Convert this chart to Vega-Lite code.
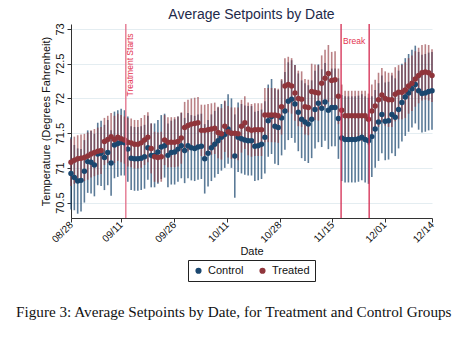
{
  "$schema": "https://vega.github.io/schema/vega-lite/v6.json",
  "background": "white",
  "padding": {"left": 15, "top": 7, "right": 10, "bottom": 4},
  "title": {"text": "Figure 3: Average Setpoints by Date, for Treatment and Control Groups", "orient": "bottom", "font": "Liberation Serif", "fontSize": 15.2, "fontWeight": "normal", "color": "#111111", "anchor": "middle", "offset": 23, "dx": -4},
  "datasets": {
    "d": [
      {"t":0,"g":"Control","m":70.92,"lo":70.40,"hi":71.44},
      {"t":1,"g":"Control","m":70.86,"lo":70.39,"hi":71.33},
      {"t":2,"g":"Control","m":70.81,"lo":70.34,"hi":71.28},
      {"t":3,"g":"Control","m":70.82,"lo":70.37,"hi":71.27},
      {"t":4,"g":"Control","m":70.95,"lo":70.50,"hi":71.40},
      {"t":5,"g":"Control","m":71.09,"lo":70.64,"hi":71.54},
      {"t":6,"g":"Control","m":71.08,"lo":70.63,"hi":71.53},
      {"t":7,"g":"Control","m":71.04,"lo":70.59,"hi":71.49},
      {"t":8,"g":"Control","m":71.20,"lo":70.75,"hi":71.65},
      {"t":9,"g":"Control","m":71.21,"lo":70.74,"hi":71.68},
      {"t":10,"g":"Control","m":71.15,"lo":70.68,"hi":71.62},
      {"t":11,"g":"Control","m":71.22,"lo":70.75,"hi":71.69},
      {"t":12,"g":"Control","m":71.07,"lo":70.60,"hi":71.54},
      {"t":13,"g":"Control","m":71.33,"lo":70.85,"hi":71.81},
      {"t":14,"g":"Control","m":71.35,"lo":70.87,"hi":71.83},
      {"t":15,"g":"Control","m":71.37,"lo":70.89,"hi":71.85},
      {"t":16,"g":"Control","m":71.36,"lo":70.89,"hi":71.83},
      {"t":17,"g":"Control","m":71.27,"lo":70.80,"hi":71.74},
      {"t":18,"g":"Control","m":71.14,"lo":70.68,"hi":71.60},
      {"t":19,"g":"Control","m":71.13,"lo":70.67,"hi":71.59},
      {"t":20,"g":"Control","m":71.13,"lo":70.67,"hi":71.59},
      {"t":21,"g":"Control","m":71.14,"lo":70.68,"hi":71.60},
      {"t":22,"g":"Control","m":71.16,"lo":70.70,"hi":71.62},
      {"t":23,"g":"Control","m":71.29,"lo":70.83,"hi":71.75},
      {"t":24,"g":"Control","m":71.18,"lo":70.72,"hi":71.64},
      {"t":25,"g":"Control","m":71.18,"lo":70.72,"hi":71.64},
      {"t":26,"g":"Control","m":71.23,"lo":70.77,"hi":71.69},
      {"t":27,"g":"Control","m":71.30,"lo":70.84,"hi":71.76},
      {"t":28,"g":"Control","m":71.32,"lo":70.86,"hi":71.78},
      {"t":29,"g":"Control","m":71.18,"lo":70.72,"hi":71.64},
      {"t":30,"g":"Control","m":71.22,"lo":70.76,"hi":71.68},
      {"t":31,"g":"Control","m":71.23,"lo":70.76,"hi":71.70},
      {"t":32,"g":"Control","m":71.27,"lo":70.80,"hi":71.74},
      {"t":33,"g":"Control","m":71.32,"lo":70.85,"hi":71.79},
      {"t":34,"g":"Control","m":71.25,"lo":70.78,"hi":71.72},
      {"t":35,"g":"Control","m":71.32,"lo":70.85,"hi":71.79},
      {"t":36,"g":"Control","m":71.29,"lo":70.82,"hi":71.76},
      {"t":37,"g":"Control","m":71.28,"lo":70.81,"hi":71.75},
      {"t":38,"g":"Control","m":71.30,"lo":70.83,"hi":71.77},
      {"t":39,"g":"Control","m":71.31,"lo":70.84,"hi":71.78},
      {"t":40,"g":"Control","m":71.13,"lo":70.63,"hi":71.63},
      {"t":41,"g":"Control","m":71.21,"lo":70.73,"hi":71.69},
      {"t":42,"g":"Control","m":71.29,"lo":70.81,"hi":71.77},
      {"t":43,"g":"Control","m":71.34,"lo":70.86,"hi":71.82},
      {"t":44,"g":"Control","m":71.39,"lo":70.91,"hi":71.87},
      {"t":45,"g":"Control","m":71.44,"lo":70.96,"hi":71.92},
      {"t":46,"g":"Control","m":71.48,"lo":71.00,"hi":71.96},
      {"t":47,"g":"Control","m":71.56,"lo":71.06,"hi":72.06},
      {"t":48,"g":"Control","m":71.50,"lo":71.00,"hi":72.00},
      {"t":49,"g":"Control","m":71.17,"lo":70.57,"hi":71.77},
      {"t":50,"g":"Control","m":71.44,"lo":70.94,"hi":71.94},
      {"t":51,"g":"Control","m":71.42,"lo":70.92,"hi":71.92},
      {"t":52,"g":"Control","m":71.40,"lo":70.90,"hi":71.90},
      {"t":53,"g":"Control","m":71.39,"lo":70.89,"hi":71.89},
      {"t":54,"g":"Control","m":71.39,"lo":70.89,"hi":71.89},
      {"t":55,"g":"Control","m":71.31,"lo":70.81,"hi":71.81},
      {"t":56,"g":"Control","m":71.32,"lo":70.82,"hi":71.82},
      {"t":57,"g":"Control","m":71.34,"lo":70.84,"hi":71.84},
      {"t":58,"g":"Control","m":71.44,"lo":70.92,"hi":71.96},
      {"t":59,"g":"Control","m":71.68,"lo":71.16,"hi":72.20},
      {"t":60,"g":"Control","m":71.74,"lo":71.20,"hi":72.28},
      {"t":61,"g":"Control","m":71.60,"lo":71.06,"hi":72.14},
      {"t":62,"g":"Control","m":71.58,"lo":71.04,"hi":72.12},
      {"t":63,"g":"Control","m":71.72,"lo":71.18,"hi":72.26},
      {"t":64,"g":"Control","m":71.82,"lo":71.26,"hi":72.38},
      {"t":65,"g":"Control","m":71.96,"lo":71.40,"hi":72.52},
      {"t":66,"g":"Control","m":71.99,"lo":71.43,"hi":72.55},
      {"t":67,"g":"Control","m":71.92,"lo":71.36,"hi":72.48},
      {"t":68,"g":"Control","m":71.80,"lo":71.24,"hi":72.36},
      {"t":69,"g":"Control","m":71.70,"lo":71.14,"hi":72.26},
      {"t":70,"g":"Control","m":71.66,"lo":71.10,"hi":72.22},
      {"t":71,"g":"Control","m":71.63,"lo":71.07,"hi":72.19},
      {"t":72,"g":"Control","m":71.70,"lo":71.14,"hi":72.26},
      {"t":73,"g":"Control","m":71.84,"lo":71.28,"hi":72.40},
      {"t":74,"g":"Control","m":71.93,"lo":71.37,"hi":72.49},
      {"t":75,"g":"Control","m":71.86,"lo":71.30,"hi":72.42},
      {"t":76,"g":"Control","m":71.95,"lo":71.39,"hi":72.51},
      {"t":77,"g":"Control","m":71.83,"lo":71.27,"hi":72.39},
      {"t":78,"g":"Control","m":71.87,"lo":71.31,"hi":72.43},
      {"t":79,"g":"Control","m":71.87,"lo":71.31,"hi":72.43},
      {"t":80,"g":"Control","m":71.71,"lo":71.13,"hi":72.29},
      {"t":81,"g":"Control","m":71.43,"lo":70.81,"hi":72.05},
      {"t":82,"g":"Control","m":71.41,"lo":70.79,"hi":72.03},
      {"t":83,"g":"Control","m":71.41,"lo":70.79,"hi":72.03},
      {"t":84,"g":"Control","m":71.41,"lo":70.79,"hi":72.03},
      {"t":85,"g":"Control","m":71.41,"lo":70.79,"hi":72.03},
      {"t":86,"g":"Control","m":71.42,"lo":70.80,"hi":72.04},
      {"t":87,"g":"Control","m":71.44,"lo":70.82,"hi":72.06},
      {"t":88,"g":"Control","m":71.41,"lo":70.79,"hi":72.03},
      {"t":89,"g":"Control","m":71.39,"lo":70.77,"hi":72.01},
      {"t":90,"g":"Control","m":71.45,"lo":70.87,"hi":72.03},
      {"t":91,"g":"Control","m":71.56,"lo":71.00,"hi":72.12},
      {"t":92,"g":"Control","m":71.66,"lo":71.10,"hi":72.22},
      {"t":93,"g":"Control","m":71.77,"lo":71.21,"hi":72.33},
      {"t":94,"g":"Control","m":71.67,"lo":71.11,"hi":72.23},
      {"t":95,"g":"Control","m":71.68,"lo":71.12,"hi":72.24},
      {"t":96,"g":"Control","m":71.77,"lo":71.21,"hi":72.33},
      {"t":97,"g":"Control","m":71.73,"lo":71.17,"hi":72.29},
      {"t":98,"g":"Control","m":71.84,"lo":71.28,"hi":72.40},
      {"t":99,"g":"Control","m":71.94,"lo":71.38,"hi":72.50},
      {"t":100,"g":"Control","m":72.02,"lo":71.46,"hi":72.58},
      {"t":101,"g":"Control","m":72.08,"lo":71.52,"hi":72.64},
      {"t":102,"g":"Control","m":72.14,"lo":71.58,"hi":72.70},
      {"t":103,"g":"Control","m":72.20,"lo":71.64,"hi":72.76},
      {"t":104,"g":"Control","m":72.11,"lo":71.55,"hi":72.67},
      {"t":105,"g":"Control","m":72.07,"lo":71.51,"hi":72.63},
      {"t":106,"g":"Control","m":72.08,"lo":71.52,"hi":72.64},
      {"t":107,"g":"Control","m":72.10,"lo":71.54,"hi":72.66},
      {"t":108,"g":"Control","m":72.11,"lo":71.55,"hi":72.67},
      {"t":0,"g":"Treated","m":71.08,"lo":70.74,"hi":71.42},
      {"t":1,"g":"Treated","m":71.11,"lo":70.77,"hi":71.45},
      {"t":2,"g":"Treated","m":71.13,"lo":70.79,"hi":71.47},
      {"t":3,"g":"Treated","m":71.14,"lo":70.80,"hi":71.48},
      {"t":4,"g":"Treated","m":71.15,"lo":70.81,"hi":71.49},
      {"t":5,"g":"Treated","m":71.17,"lo":70.83,"hi":71.51},
      {"t":6,"g":"Treated","m":71.20,"lo":70.86,"hi":71.54},
      {"t":7,"g":"Treated","m":71.22,"lo":70.88,"hi":71.56},
      {"t":8,"g":"Treated","m":71.24,"lo":70.90,"hi":71.58},
      {"t":9,"g":"Treated","m":71.25,"lo":70.91,"hi":71.59},
      {"t":10,"g":"Treated","m":71.38,"lo":71.04,"hi":71.72},
      {"t":11,"g":"Treated","m":71.41,"lo":71.07,"hi":71.75},
      {"t":12,"g":"Treated","m":71.45,"lo":71.11,"hi":71.79},
      {"t":13,"g":"Treated","m":71.41,"lo":71.07,"hi":71.75},
      {"t":14,"g":"Treated","m":71.44,"lo":71.10,"hi":71.78},
      {"t":15,"g":"Treated","m":71.42,"lo":71.08,"hi":71.76},
      {"t":16,"g":"Treated","m":71.40,"lo":71.06,"hi":71.74},
      {"t":17,"g":"Treated","m":71.37,"lo":71.02,"hi":71.72},
      {"t":18,"g":"Treated","m":71.36,"lo":71.01,"hi":71.71},
      {"t":19,"g":"Treated","m":71.34,"lo":70.99,"hi":71.69},
      {"t":20,"g":"Treated","m":71.34,"lo":70.99,"hi":71.69},
      {"t":21,"g":"Treated","m":71.36,"lo":71.00,"hi":71.72},
      {"t":22,"g":"Treated","m":71.40,"lo":71.04,"hi":71.76},
      {"t":23,"g":"Treated","m":71.44,"lo":71.08,"hi":71.80},
      {"t":24,"g":"Treated","m":71.28,"lo":70.92,"hi":71.64},
      {"t":25,"g":"Treated","m":71.16,"lo":70.80,"hi":71.52},
      {"t":26,"g":"Treated","m":71.15,"lo":70.79,"hi":71.51},
      {"t":27,"g":"Treated","m":71.16,"lo":70.80,"hi":71.52},
      {"t":28,"g":"Treated","m":71.40,"lo":71.04,"hi":71.76},
      {"t":29,"g":"Treated","m":71.37,"lo":71.01,"hi":71.73},
      {"t":30,"g":"Treated","m":71.37,"lo":71.01,"hi":71.73},
      {"t":31,"g":"Treated","m":71.37,"lo":71.01,"hi":71.73},
      {"t":32,"g":"Treated","m":71.38,"lo":71.02,"hi":71.74},
      {"t":33,"g":"Treated","m":71.43,"lo":71.06,"hi":71.80},
      {"t":34,"g":"Treated","m":71.58,"lo":71.21,"hi":71.95},
      {"t":35,"g":"Treated","m":71.61,"lo":71.24,"hi":71.98},
      {"t":36,"g":"Treated","m":71.63,"lo":71.26,"hi":72.00},
      {"t":37,"g":"Treated","m":71.64,"lo":71.27,"hi":72.01},
      {"t":38,"g":"Treated","m":71.65,"lo":71.28,"hi":72.02},
      {"t":39,"g":"Treated","m":71.54,"lo":71.17,"hi":71.91},
      {"t":40,"g":"Treated","m":71.54,"lo":71.17,"hi":71.91},
      {"t":41,"g":"Treated","m":71.55,"lo":71.18,"hi":71.92},
      {"t":42,"g":"Treated","m":71.56,"lo":71.19,"hi":71.93},
      {"t":43,"g":"Treated","m":71.57,"lo":71.20,"hi":71.94},
      {"t":44,"g":"Treated","m":71.51,"lo":71.14,"hi":71.88},
      {"t":45,"g":"Treated","m":71.49,"lo":71.12,"hi":71.86},
      {"t":46,"g":"Treated","m":71.60,"lo":71.23,"hi":71.97},
      {"t":47,"g":"Treated","m":71.52,"lo":71.15,"hi":71.89},
      {"t":48,"g":"Treated","m":71.50,"lo":71.13,"hi":71.87},
      {"t":49,"g":"Treated","m":71.50,"lo":71.13,"hi":71.87},
      {"t":50,"g":"Treated","m":71.49,"lo":71.11,"hi":71.87},
      {"t":51,"g":"Treated","m":71.60,"lo":71.22,"hi":71.98},
      {"t":52,"g":"Treated","m":71.65,"lo":71.27,"hi":72.03},
      {"t":53,"g":"Treated","m":71.56,"lo":71.18,"hi":71.94},
      {"t":54,"g":"Treated","m":71.54,"lo":71.16,"hi":71.92},
      {"t":55,"g":"Treated","m":71.55,"lo":71.17,"hi":71.93},
      {"t":56,"g":"Treated","m":71.55,"lo":71.17,"hi":71.93},
      {"t":57,"g":"Treated","m":71.55,"lo":71.17,"hi":71.93},
      {"t":58,"g":"Treated","m":71.76,"lo":71.37,"hi":72.15},
      {"t":59,"g":"Treated","m":71.76,"lo":71.37,"hi":72.15},
      {"t":60,"g":"Treated","m":71.76,"lo":71.37,"hi":72.15},
      {"t":61,"g":"Treated","m":71.76,"lo":71.37,"hi":72.15},
      {"t":62,"g":"Treated","m":71.75,"lo":71.36,"hi":72.14},
      {"t":63,"g":"Treated","m":71.88,"lo":71.48,"hi":72.28},
      {"t":64,"g":"Treated","m":72.18,"lo":71.78,"hi":72.58},
      {"t":65,"g":"Treated","m":72.20,"lo":71.80,"hi":72.60},
      {"t":66,"g":"Treated","m":72.18,"lo":71.78,"hi":72.58},
      {"t":67,"g":"Treated","m":72.08,"lo":71.68,"hi":72.48},
      {"t":68,"g":"Treated","m":72.00,"lo":71.60,"hi":72.40},
      {"t":69,"g":"Treated","m":71.99,"lo":71.59,"hi":72.39},
      {"t":70,"g":"Treated","m":71.88,"lo":71.48,"hi":72.28},
      {"t":71,"g":"Treated","m":71.87,"lo":71.47,"hi":72.27},
      {"t":72,"g":"Treated","m":72.10,"lo":71.70,"hi":72.50},
      {"t":73,"g":"Treated","m":72.09,"lo":71.69,"hi":72.49},
      {"t":74,"g":"Treated","m":72.08,"lo":71.68,"hi":72.48},
      {"t":75,"g":"Treated","m":72.22,"lo":71.82,"hi":72.62},
      {"t":76,"g":"Treated","m":72.29,"lo":71.88,"hi":72.70},
      {"t":77,"g":"Treated","m":72.36,"lo":71.95,"hi":72.77},
      {"t":78,"g":"Treated","m":72.26,"lo":71.85,"hi":72.67},
      {"t":79,"g":"Treated","m":72.27,"lo":71.86,"hi":72.68},
      {"t":80,"g":"Treated","m":72.03,"lo":71.63,"hi":72.43},
      {"t":81,"g":"Treated","m":71.83,"lo":71.46,"hi":72.20},
      {"t":82,"g":"Treated","m":71.75,"lo":71.39,"hi":72.11},
      {"t":83,"g":"Treated","m":71.75,"lo":71.39,"hi":72.11},
      {"t":84,"g":"Treated","m":71.75,"lo":71.39,"hi":72.11},
      {"t":85,"g":"Treated","m":71.75,"lo":71.39,"hi":72.11},
      {"t":86,"g":"Treated","m":71.75,"lo":71.39,"hi":72.11},
      {"t":87,"g":"Treated","m":71.75,"lo":71.39,"hi":72.11},
      {"t":88,"g":"Treated","m":71.75,"lo":71.39,"hi":72.11},
      {"t":89,"g":"Treated","m":71.70,"lo":71.33,"hi":72.07},
      {"t":90,"g":"Treated","m":71.82,"lo":71.44,"hi":72.20},
      {"t":91,"g":"Treated","m":71.89,"lo":71.51,"hi":72.27},
      {"t":92,"g":"Treated","m":71.98,"lo":71.59,"hi":72.37},
      {"t":93,"g":"Treated","m":72.05,"lo":71.66,"hi":72.44},
      {"t":94,"g":"Treated","m":72.00,"lo":71.61,"hi":72.39},
      {"t":95,"g":"Treated","m":71.98,"lo":71.59,"hi":72.37},
      {"t":96,"g":"Treated","m":71.98,"lo":71.59,"hi":72.37},
      {"t":97,"g":"Treated","m":72.06,"lo":71.67,"hi":72.45},
      {"t":98,"g":"Treated","m":72.09,"lo":71.70,"hi":72.48},
      {"t":99,"g":"Treated","m":72.09,"lo":71.70,"hi":72.48},
      {"t":100,"g":"Treated","m":72.12,"lo":71.72,"hi":72.52},
      {"t":101,"g":"Treated","m":72.18,"lo":71.78,"hi":72.58},
      {"t":102,"g":"Treated","m":72.22,"lo":71.82,"hi":72.62},
      {"t":103,"g":"Treated","m":72.28,"lo":71.88,"hi":72.68},
      {"t":104,"g":"Treated","m":72.33,"lo":71.93,"hi":72.73},
      {"t":105,"g":"Treated","m":72.37,"lo":71.97,"hi":72.77},
      {"t":106,"g":"Treated","m":72.38,"lo":71.98,"hi":72.78},
      {"t":107,"g":"Treated","m":72.37,"lo":71.97,"hi":72.77},
      {"t":108,"g":"Treated","m":72.33,"lo":71.95,"hi":72.71}
    ]
  },
  "vconcat": [
    {
      "width": 361,
      "height": 194,
      "title": {"text": "Average Setpoints by Date", "fontSize": 14, "font": "Liberation Sans", "fontWeight": "normal", "color": "#1e2a4a", "offset": 1, "frame": "group", "anchor": "middle"},
      "data": {"name": "d"},
      "layer": [
        {
          "transform": [{"filter": "datum.g === 'Control'"}],
          "mark": {"type": "rule", "color": "#1a476f", "strokeWidth": 1.6, "opacity": 0.72},
          "encoding": {
            "x": {"field": "t", "type": "quantitative", "scale": {"domain": [0, 108], "nice": false, "zero": false},
              "axis": {"title": "Date", "values": [0, 14.9, 30.9, 46.6, 62.4, 78.2, 93.8, 108], "tickCount": 20, "labelExpr": "datum.value < 7 ? '08/28' : datum.value < 22 ? '09/11' : datum.value < 38 ? '09/26' : datum.value < 54 ? '10/11' : datum.value < 70 ? '10/28' : datum.value < 86 ? '11/15' : datum.value < 100 ? '12/01' : '12/14'", "labelAngle": -45, "labelAlign": "right", "labelBaseline": "middle", "labelFontSize": 10, "titleFontSize": 11, "grid": false, "tickSize": 4, "labelPadding": 1, "titlePadding": 1, "labelOverlap": false, "labelFlush": false}},
            "xOffset": {"field": "g", "type": "nominal", "scale": {"domain": ["Control", "Treated"], "range": [-0.65, 0.65]}},
            "y": {"field": "lo", "type": "quantitative", "scale": {"domain": [70.278, 73.072], "nice": false, "zero": false},
              "axis": {"title": "Temperature (Degrees Fahrenheit)", "values": [70.5, 71, 71.5, 72, 72.5, 73], "tickCount": 20, "labelExpr": "datum.value < 70.75 ? '70.5' : datum.value < 71.25 ? '71' : datum.value < 71.75 ? '71.5' : datum.value < 72.25 ? '72' : datum.value < 72.75 ? '72.5' : '73'", "labelAngle": 270, "labelAlign": "center", "labelBaseline": "bottom", "labelFontSize": 11, "titleFontSize": 11, "tickSize": 4, "labelPadding": 2, "titlePadding": 3, "grid": true, "gridColor": "#e4edf1", "labelFlush": false, "labelOverlap": false, "labelBound": false}},
            "y2": {"field": "hi"}
          }
        },
        {
          "transform": [{"filter": "datum.g === 'Treated'"}],
          "mark": {"type": "rule", "color": "#90353b", "strokeWidth": 1.6, "opacity": 0.62},
          "encoding": {
            "x": {"field": "t", "type": "quantitative"},
            "xOffset": {"field": "g", "type": "nominal"},
            "y": {"field": "lo", "type": "quantitative"},
            "y2": {"field": "hi"}
          }
        },
        {
          "mark": {"type": "point", "filled": true, "size": 30, "opacity": 1},
          "encoding": {
            "x": {"field": "t", "type": "quantitative"},
            "xOffset": {"field": "g", "type": "nominal"},
            "y": {"field": "m", "type": "quantitative"},
            "color": {"field": "g", "type": "nominal", "scale": {"domain": ["Control", "Treated"], "range": ["#1a476f", "#90353b"]}, "legend": {"title": null}}
          }
        },
        {
          "data": {"values": [{"t": 16.4}]},
          "mark": {"type": "rule", "color": "#e26d87", "strokeWidth": 1.3},
          "encoding": {"x": {"field": "t", "type": "quantitative"}}
        },
        {
          "data": {"values": [{"t": 80.8}, {"t": 89.2}]},
          "mark": {"type": "rule", "color": "#d42a50", "strokeWidth": 1.3},
          "encoding": {"x": {"field": "t", "type": "quantitative"}}
        },
        {
          "data": {"values": [{}]},
          "mark": {"type": "text", "text": "Treatment Starts", "angle": 270, "align": "right", "baseline": "top", "dx": 2.5, "fontSize": 8.5, "font": "Liberation Sans", "color": "#e3344f"},
          "encoding": {"x": {"datum": 16.4}, "y": {"datum": 72.9}}
        },
        {
          "data": {"values": [{}]},
          "mark": {"type": "text", "text": "Break", "align": "left", "baseline": "middle", "dx": 2, "fontSize": 8.5, "font": "Liberation Sans", "color": "#e3344f"},
          "encoding": {"x": {"datum": 80.8}, "y": {"datum": 72.83}}
        }
      ]
    }
  ],
  "config": {
    "view": {"stroke": null},
    "font": "Liberation Sans",
    "axis": {"domainColor": "#333333", "tickColor": "#333333", "labelColor": "#111111", "titleColor": "#111111", "labelFont": "Liberation Sans", "titleFont": "Liberation Sans", "titleFontWeight": "normal"},
    "legend": {"orient": "bottom", "direction": "horizontal", "strokeColor": "#222222", "padding": 5, "labelFontSize": 11, "labelFont": "Liberation Sans", "labelColor": "#111111", "symbolSize": 38, "symbolType": "circle", "columnPadding": 13, "symbolStrokeWidth": 0, "offset": 3, "layout": {"bottom": {"anchor": "middle"}}}
  }
}
